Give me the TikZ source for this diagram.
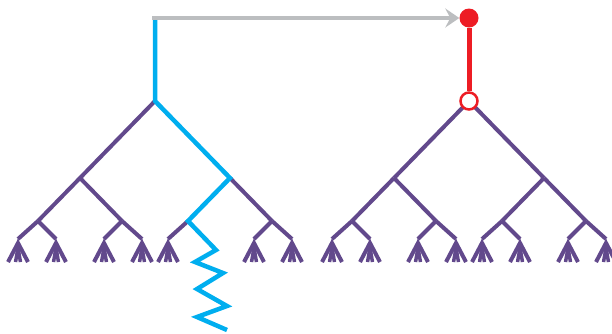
\documentclass[tikz,border=0pt]{standalone}
\usetikzlibrary{arrows.meta}

\definecolor{treepurple}{RGB}{98,73,140}
\definecolor{walkblue}{RGB}{0,174,239}
\definecolor{hitred}{RGB}{237,28,36}
\definecolor{raygray}{RGB}{188,190,192}

\tikzset{
  branch/.style={treepurple, line width=4pt},
  walk/.style={walkblue, line width=4.5pt},
  ray/.style={raygray, line width=4pt, -{Stealth[length=14pt, width=19pt, inset=5pt]}},
  crowfoot/.pic={
    \draw[treepurple, line width=4pt] (-10,19) -- (0,0) -- (10,19);
    \draw[treepurple, line width=3.5pt] (-2.5,19) -- (0,5) -- (2.5,19);
  }
}

\begin{document}
\begin{tikzpicture}[x=1pt, y=-1pt]
            \useasboundingbox (0,0) rectangle (612,333);
            % left tree
            \coordinate (S)   at (152,18);
            \coordinate (A0)  at (155,101);
            \coordinate (A1)  at (80,178);
            \coordinate (A2)  at (230,178);
            \coordinate (A11) at (38,221);
            \coordinate (A12) at (122,221);
            \coordinate (A21) at (188,221);
            \coordinate (A22) at (272,221);
            \foreach \i/\x in {1/18,2/56,3/104,4/142,5/168,6/206,7/254,8/292}
                \coordinate (Al\i) at (\x,239);
            \draw[branch] (A0) -- (A1) -- (A11) (A1) -- (A12) (A2) -- (A22);
            \foreach \p/\c in {A11/1,A11/2,A12/3,A12/4,A21/5,A22/7,A22/8}
                \draw[branch] (\p) -- (Al\c);
            \foreach \x in {18,56,104,142,168,254,292}
                \pic at (\x,243) {crowfoot};
            % the path that walks down and off the tree
            \draw[walk] ([yshift=-2pt]A0 |- S) -- (A0) -- (A2) -- (A21)
                -- ++(28,29) -- ++(-21,12) -- ++(28,11) -- ++(-26,16)
                -- ++(30,17) -- ++(-30,11) -- ++(30,13);
            % right tree
            \begin{scope}[shift={(314,0)}]
                \coordinate (B0)  at (155,101);
                \coordinate (B1)  at (80,178);
                \coordinate (B2)  at (230,178);
                \coordinate (B11) at (38,221);
                \coordinate (B12) at (122,221);
                \coordinate (B21) at (188,221);
                \coordinate (B22) at (272,221);
                \foreach \i/\x in {1/18,2/56,3/104,4/142,5/168,6/206,7/254,8/292}
                    \coordinate (Bl\i) at (\x,239);
                \draw[branch] (B1) -- (B0) -- (B2);
                \draw[branch] (B1) -- (B11) (B1) -- (B12) (B2) -- (B21) (B2) -- (B22);
                \foreach \p/\c in {B11/1,B11/2,B12/3,B12/4,B21/5,B21/6,B22/7,B22/8}
                    \draw[branch] (\p) -- (Bl\c);
                \foreach \x in {18,56,104,142,168,206,254,292}
                    \pic at (\x,243) {crowfoot};
                \node[circle, fill=hitred, inner sep=0pt, minimum size=19pt] (top) at (155,18) {};
                \node[circle, draw=hitred, fill=white, line width=2.5pt, inner sep=0pt,
                      minimum size=17pt] (sub) at (B0) {};
            \end{scope}
            \draw[hitred, line width=5pt] (top) -- (sub);
            \draw[ray] (S) -- (top);
        \end{tikzpicture}
\end{document}
